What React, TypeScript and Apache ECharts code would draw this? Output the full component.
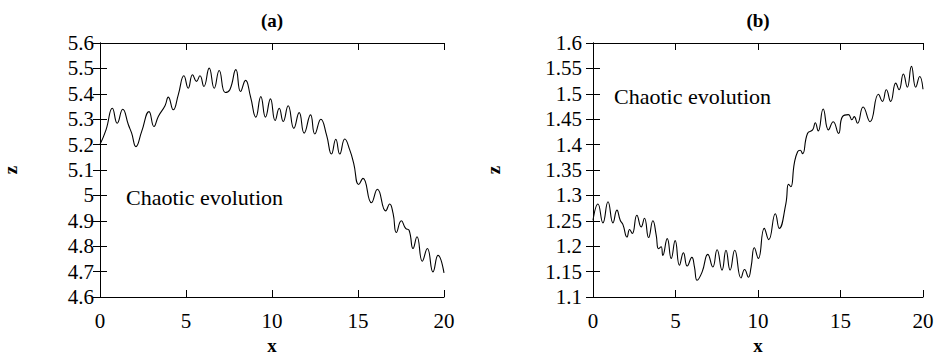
import React, { useEffect, useRef } from "react";
import * as echarts from "echarts";

const FONT = "Liberation Serif";

// Panel (a)
const xA = [0, 0.35, 0.72, 1.0, 1.32, 1.65, 1.84, 2.09, 2.42, 2.85, 3.14, 3.39, 3.78, 3.97, 4.26, 4.55, 4.88, 5.13, 5.38, 5.61, 5.81, 6.04, 6.35, 6.64, 6.93, 7.28, 7.55, 7.9, 8.17, 8.46, 8.75, 9.06, 9.35, 9.62, 9.91, 10.18, 10.42, 10.65, 10.94, 11.27, 11.58, 11.87, 12.24, 12.49, 12.84, 13.17, 13.46, 13.71, 13.94, 14.23, 14.52, 14.75, 15.04, 15.29, 15.78, 16.13, 16.61, 16.84, 17.04, 17.23, 17.52, 17.77, 17.97, 18.2, 18.43, 18.74, 19.03, 19.36, 19.65, 20];
const zA = [5.2, 5.258, 5.343, 5.284, 5.339, 5.278, 5.245, 5.192, 5.251, 5.33, 5.271, 5.311, 5.353, 5.387, 5.337, 5.396, 5.471, 5.422, 5.475, 5.449, 5.471, 5.429, 5.501, 5.422, 5.492, 5.405, 5.416, 5.495, 5.409, 5.453, 5.389, 5.308, 5.389, 5.308, 5.38, 5.295, 5.343, 5.291, 5.353, 5.264, 5.326, 5.245, 5.317, 5.242, 5.3, 5.238, 5.163, 5.221, 5.163, 5.222, 5.179, 5.126, 5.043, 5.067, 4.971, 5.024, 4.939, 4.966, 4.929, 4.854, 4.9, 4.87, 4.863, 4.791, 4.837, 4.741, 4.791, 4.699, 4.764, 4.695];

// Panel (b)
const xB = [0, 0.3, 0.6, 0.91, 1.21, 1.45, 1.65, 1.81, 2.06, 2.22, 2.38, 2.66, 2.92, 3.12, 3.37, 3.63, 3.83, 3.97, 4.13, 4.23, 4.5, 4.74, 4.98, 5.24, 5.48, 5.71, 5.99, 6.15, 6.31, 6.61, 6.96, 7.26, 7.52, 7.82, 8.06, 8.31, 8.59, 8.97, 9.19, 9.42, 9.58, 9.78, 10.02, 10.38, 10.65, 11.05, 11.29, 11.69, 11.85, 11.99, 12.2, 12.4, 12.56, 12.7, 13.0, 13.31, 13.47, 13.65, 13.95, 14.27, 14.56, 14.88, 15.12, 15.48, 15.69, 15.83, 16.03, 16.37, 16.79, 17.3, 17.54, 17.78, 18.04, 18.35, 18.55, 18.81, 19.05, 19.3, 19.56, 19.8, 20];
const zB = [1.251, 1.283, 1.246, 1.2875, 1.246, 1.271, 1.251, 1.243, 1.218, 1.233, 1.225, 1.261, 1.238, 1.255, 1.217, 1.25, 1.222, 1.195, 1.199, 1.182, 1.215, 1.176, 1.211, 1.1625, 1.187, 1.161, 1.178, 1.159, 1.133, 1.149, 1.184, 1.159, 1.193, 1.153, 1.192, 1.153, 1.192, 1.1375, 1.154, 1.139, 1.159, 1.197, 1.176, 1.235, 1.213, 1.264, 1.235, 1.284, 1.322, 1.317, 1.363, 1.386, 1.389, 1.382, 1.422, 1.429, 1.443, 1.427, 1.47, 1.429, 1.445, 1.422, 1.455, 1.459, 1.449, 1.455, 1.442, 1.474, 1.445, 1.499, 1.485, 1.508, 1.485, 1.521, 1.508, 1.539, 1.513, 1.554, 1.513, 1.534, 1.509];

const titles = ["(a)", "(b)"];
const annotation = "Chaotic evolution";

const xTicks = { min: 0, max: 20, interval: 5 };
const yTicksA = { min: 4.6, max: 5.6, interval: 0.1 };
const yTicksB = { min: 1.1, max: 1.6, interval: 0.05 };

export default function App() {
  const ref = useRef<HTMLDivElement>(null);
  useEffect(() => {
    if (!ref.current) return;
    const chart = echarts.init(ref.current, undefined, { renderer: "svg" });
    const black = "#000";
    const labelStyle = { color: black, fontSize: 21, fontFamily: FONT };
    const tick = { inside: true, length: 7, lineStyle: { color: black, width: 1 } };
    const line = { show: true, lineStyle: { color: black, width: 1 } };
    const nameStyle = { color: black, fontSize: 19, fontWeight: "bold" as const, fontFamily: FONT };

    const mkX = (g: number, top: boolean) => ({
      type: "value" as const,
      gridIndex: g,
      position: top ? "top" : "bottom",
      ...xTicks,
      axisLine: line,
      axisTick: tick,
      axisLabel: top ? { show: false } : { ...labelStyle, margin: 13 },
      splitLine: { show: false },
      name: top ? "" : "x",
      nameLocation: "middle" as const,
      nameGap: 38,
      nameTextStyle: nameStyle,
    });
    const mkY = (g: number, right: boolean, t: any, gap: number, margin: number) => ({
      type: "value" as const,
      gridIndex: g,
      position: right ? "right" : "left",
      ...t,
      axisLine: line,
      axisTick: tick,
      axisLabel: right ? { show: false } : { ...labelStyle, margin },
      splitLine: { show: false },
      name: right ? "" : "z",
      nameLocation: "middle" as const,
      nameGap: gap,
      nameRotate: 90,
      nameTextStyle: nameStyle,
    });

    chart.setOption({
      animation: false,
      backgroundColor: "#fff",
      grid: [
        { left: 100, right: 492, top: 43, bottom: 61, containLabel: false, outerBoundsMode: "none" },
        { left: 593, right: 13, top: 43, bottom: 61, containLabel: false, outerBoundsMode: "none" },
      ],
      xAxis: [mkX(0, false), mkX(0, true), mkX(1, false), mkX(1, true)],
      yAxis: [
        mkY(0, false, yTicksA, 80, 6),
        mkY(0, true, yTicksA, 0, 6),
        mkY(1, false, yTicksB, 90, 11),
        mkY(1, true, yTicksB, 0, 11),
      ],
      series: [
        {
          type: "line",
          xAxisIndex: 0,
          yAxisIndex: 0,
          data: xA.map((x, i) => [x, zA[i]]),
          smooth: 0.5,
          showSymbol: false,
          lineStyle: { color: black, width: 1.1 },
        },
        {
          type: "line",
          xAxisIndex: 2,
          yAxisIndex: 2,
          data: xB.map((x, i) => [x, zB[i]]),
          smooth: 0.5,
          showSymbol: false,
          lineStyle: { color: black, width: 1.1 },
        },
      ],
      graphic: [
        {
          type: "text",
          x: 272,
          y: 20,
          style: { text: titles[0], fontSize: 19, fontWeight: "bold", fontFamily: FONT, fill: black, align: "center", verticalAlign: "middle" },
        },
        {
          type: "text",
          x: 758,
          y: 20,
          style: { text: titles[1], fontSize: 19, fontWeight: "bold", fontFamily: FONT, fill: black, align: "center", verticalAlign: "middle" },
        },
        {
          type: "text",
          x: 126,
          y: 197,
          style: { text: annotation, fontSize: 22, fontFamily: FONT, fill: black, align: "left", verticalAlign: "middle" },
        },
        {
          type: "text",
          x: 614,
          y: 96,
          style: { text: annotation, fontSize: 22, fontFamily: FONT, fill: black, align: "left", verticalAlign: "middle" },
        },
      ],
    });
    return () => chart.dispose();
  }, []);
  return <div ref={ref} style={{ width: 936, height: 358, position: "absolute", left: 0, top: 0 }} />;
}
